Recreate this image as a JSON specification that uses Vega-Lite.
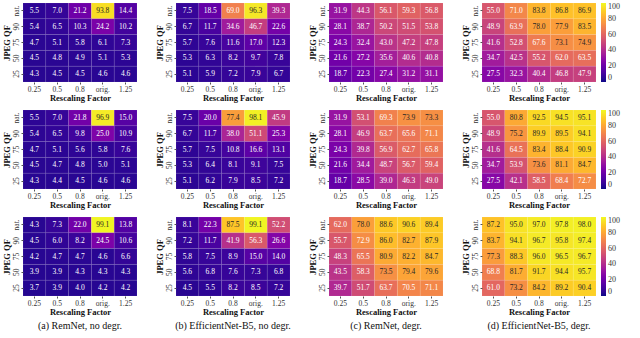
{
"$schema":"https://vega.github.io/schema/vega-lite/v6.json",
"padding":{"left":2,"top":2,"right":0,"bottom":0},
"background":"white",
"datasets":{"d":[
{"p":"a1","x":"0.25","q":"nat.","v":5.5},{"p":"a1","x":"0.5","q":"nat.","v":7.0},{"p":"a1","x":"0.8","q":"nat.","v":21.2},{"p":"a1","x":"orig.","q":"nat.","v":93.8},{"p":"a1","x":"1.25","q":"nat.","v":14.4},
{"p":"a1","x":"0.25","q":"90","v":5.4},{"p":"a1","x":"0.5","q":"90","v":6.5},{"p":"a1","x":"0.8","q":"90","v":10.3},{"p":"a1","x":"orig.","q":"90","v":24.2},{"p":"a1","x":"1.25","q":"90","v":10.2},
{"p":"a1","x":"0.25","q":"75","v":4.7},{"p":"a1","x":"0.5","q":"75","v":5.1},{"p":"a1","x":"0.8","q":"75","v":5.8},{"p":"a1","x":"orig.","q":"75","v":6.1},{"p":"a1","x":"1.25","q":"75","v":7.3},
{"p":"a1","x":"0.25","q":"50","v":4.5},{"p":"a1","x":"0.5","q":"50","v":4.8},{"p":"a1","x":"0.8","q":"50","v":4.9},{"p":"a1","x":"orig.","q":"50","v":5.1},{"p":"a1","x":"1.25","q":"50","v":5.3},
{"p":"a1","x":"0.25","q":"25","v":4.3},{"p":"a1","x":"0.5","q":"25","v":4.5},{"p":"a1","x":"0.8","q":"25","v":4.5},{"p":"a1","x":"orig.","q":"25","v":4.6},{"p":"a1","x":"1.25","q":"25","v":4.6},

{"p":"a2","x":"0.25","q":"nat.","v":5.5},{"p":"a2","x":"0.5","q":"nat.","v":7.0},{"p":"a2","x":"0.8","q":"nat.","v":21.8},{"p":"a2","x":"orig.","q":"nat.","v":96.9},{"p":"a2","x":"1.25","q":"nat.","v":15.0},
{"p":"a2","x":"0.25","q":"90","v":5.4},{"p":"a2","x":"0.5","q":"90","v":6.5},{"p":"a2","x":"0.8","q":"90","v":9.8},{"p":"a2","x":"orig.","q":"90","v":25.0},{"p":"a2","x":"1.25","q":"90","v":10.9},
{"p":"a2","x":"0.25","q":"75","v":4.7},{"p":"a2","x":"0.5","q":"75","v":5.1},{"p":"a2","x":"0.8","q":"75","v":5.6},{"p":"a2","x":"orig.","q":"75","v":5.8},{"p":"a2","x":"1.25","q":"75","v":7.6},
{"p":"a2","x":"0.25","q":"50","v":4.5},{"p":"a2","x":"0.5","q":"50","v":4.7},{"p":"a2","x":"0.8","q":"50","v":4.8},{"p":"a2","x":"orig.","q":"50","v":5.0},{"p":"a2","x":"1.25","q":"50","v":5.1},
{"p":"a2","x":"0.25","q":"25","v":4.3},{"p":"a2","x":"0.5","q":"25","v":4.4},{"p":"a2","x":"0.8","q":"25","v":4.5},{"p":"a2","x":"orig.","q":"25","v":4.6},{"p":"a2","x":"1.25","q":"25","v":4.6},

{"p":"a3","x":"0.25","q":"nat.","v":4.3},{"p":"a3","x":"0.5","q":"nat.","v":7.3},{"p":"a3","x":"0.8","q":"nat.","v":22.0},{"p":"a3","x":"orig.","q":"nat.","v":99.1},{"p":"a3","x":"1.25","q":"nat.","v":13.8},
{"p":"a3","x":"0.25","q":"90","v":4.5},{"p":"a3","x":"0.5","q":"90","v":6.0},{"p":"a3","x":"0.8","q":"90","v":8.2},{"p":"a3","x":"orig.","q":"90","v":24.5},{"p":"a3","x":"1.25","q":"90","v":10.6},
{"p":"a3","x":"0.25","q":"75","v":4.2},{"p":"a3","x":"0.5","q":"75","v":4.7},{"p":"a3","x":"0.8","q":"75","v":4.7},{"p":"a3","x":"orig.","q":"75","v":4.6},{"p":"a3","x":"1.25","q":"75","v":6.6},
{"p":"a3","x":"0.25","q":"50","v":3.9},{"p":"a3","x":"0.5","q":"50","v":3.9},{"p":"a3","x":"0.8","q":"50","v":4.3},{"p":"a3","x":"orig.","q":"50","v":4.3},{"p":"a3","x":"1.25","q":"50","v":4.3},
{"p":"a3","x":"0.25","q":"25","v":3.7},{"p":"a3","x":"0.5","q":"25","v":3.9},{"p":"a3","x":"0.8","q":"25","v":4.0},{"p":"a3","x":"orig.","q":"25","v":4.2},{"p":"a3","x":"1.25","q":"25","v":4.2},

{"p":"b1","x":"0.25","q":"nat.","v":7.5},{"p":"b1","x":"0.5","q":"nat.","v":18.5},{"p":"b1","x":"0.8","q":"nat.","v":69.0},{"p":"b1","x":"orig.","q":"nat.","v":96.3},{"p":"b1","x":"1.25","q":"nat.","v":39.3},
{"p":"b1","x":"0.25","q":"90","v":6.7},{"p":"b1","x":"0.5","q":"90","v":11.7},{"p":"b1","x":"0.8","q":"90","v":34.6},{"p":"b1","x":"orig.","q":"90","v":46.7},{"p":"b1","x":"1.25","q":"90","v":22.6},
{"p":"b1","x":"0.25","q":"75","v":5.7},{"p":"b1","x":"0.5","q":"75","v":7.6},{"p":"b1","x":"0.8","q":"75","v":11.6},{"p":"b1","x":"orig.","q":"75","v":17.0},{"p":"b1","x":"1.25","q":"75","v":12.3},
{"p":"b1","x":"0.25","q":"50","v":5.3},{"p":"b1","x":"0.5","q":"50","v":6.3},{"p":"b1","x":"0.8","q":"50","v":8.2},{"p":"b1","x":"orig.","q":"50","v":9.7},{"p":"b1","x":"1.25","q":"50","v":7.8},
{"p":"b1","x":"0.25","q":"25","v":5.1},{"p":"b1","x":"0.5","q":"25","v":5.9},{"p":"b1","x":"0.8","q":"25","v":7.2},{"p":"b1","x":"orig.","q":"25","v":7.9},{"p":"b1","x":"1.25","q":"25","v":6.7},

{"p":"b2","x":"0.25","q":"nat.","v":7.5},{"p":"b2","x":"0.5","q":"nat.","v":20.0},{"p":"b2","x":"0.8","q":"nat.","v":77.4},{"p":"b2","x":"orig.","q":"nat.","v":98.1},{"p":"b2","x":"1.25","q":"nat.","v":45.9},
{"p":"b2","x":"0.25","q":"90","v":6.7},{"p":"b2","x":"0.5","q":"90","v":11.7},{"p":"b2","x":"0.8","q":"90","v":38.0},{"p":"b2","x":"orig.","q":"90","v":51.1},{"p":"b2","x":"1.25","q":"90","v":25.3},
{"p":"b2","x":"0.25","q":"75","v":5.7},{"p":"b2","x":"0.5","q":"75","v":7.5},{"p":"b2","x":"0.8","q":"75","v":10.8},{"p":"b2","x":"orig.","q":"75","v":16.6},{"p":"b2","x":"1.25","q":"75","v":13.1},
{"p":"b2","x":"0.25","q":"50","v":5.3},{"p":"b2","x":"0.5","q":"50","v":6.4},{"p":"b2","x":"0.8","q":"50","v":8.1},{"p":"b2","x":"orig.","q":"50","v":9.1},{"p":"b2","x":"1.25","q":"50","v":7.5},
{"p":"b2","x":"0.25","q":"25","v":5.1},{"p":"b2","x":"0.5","q":"25","v":6.2},{"p":"b2","x":"0.8","q":"25","v":7.9},{"p":"b2","x":"orig.","q":"25","v":8.5},{"p":"b2","x":"1.25","q":"25","v":7.2},

{"p":"b3","x":"0.25","q":"nat.","v":8.1},{"p":"b3","x":"0.5","q":"nat.","v":22.3},{"p":"b3","x":"0.8","q":"nat.","v":87.5},{"p":"b3","x":"orig.","q":"nat.","v":99.1},{"p":"b3","x":"1.25","q":"nat.","v":52.2},
{"p":"b3","x":"0.25","q":"90","v":7.2},{"p":"b3","x":"0.5","q":"90","v":11.7},{"p":"b3","x":"0.8","q":"90","v":41.9},{"p":"b3","x":"orig.","q":"90","v":56.3},{"p":"b3","x":"1.25","q":"90","v":26.6},
{"p":"b3","x":"0.25","q":"75","v":5.8},{"p":"b3","x":"0.5","q":"75","v":7.5},{"p":"b3","x":"0.8","q":"75","v":8.9},{"p":"b3","x":"orig.","q":"75","v":15.0},{"p":"b3","x":"1.25","q":"75","v":14.0},
{"p":"b3","x":"0.25","q":"50","v":5.6},{"p":"b3","x":"0.5","q":"50","v":6.8},{"p":"b3","x":"0.8","q":"50","v":7.6},{"p":"b3","x":"orig.","q":"50","v":7.3},{"p":"b3","x":"1.25","q":"50","v":6.8},
{"p":"b3","x":"0.25","q":"25","v":4.5},{"p":"b3","x":"0.5","q":"25","v":5.5},{"p":"b3","x":"0.8","q":"25","v":8.2},{"p":"b3","x":"orig.","q":"25","v":8.5},{"p":"b3","x":"1.25","q":"25","v":7.2},

{"p":"c1","x":"0.25","q":"nat.","v":31.9},{"p":"c1","x":"0.5","q":"nat.","v":44.3},{"p":"c1","x":"0.8","q":"nat.","v":56.1},{"p":"c1","x":"orig.","q":"nat.","v":59.3},{"p":"c1","x":"1.25","q":"nat.","v":56.8},
{"p":"c1","x":"0.25","q":"90","v":28.1},{"p":"c1","x":"0.5","q":"90","v":38.7},{"p":"c1","x":"0.8","q":"90","v":50.2},{"p":"c1","x":"orig.","q":"90","v":51.5},{"p":"c1","x":"1.25","q":"90","v":53.8},
{"p":"c1","x":"0.25","q":"75","v":24.3},{"p":"c1","x":"0.5","q":"75","v":32.4},{"p":"c1","x":"0.8","q":"75","v":43.0},{"p":"c1","x":"orig.","q":"75","v":47.2},{"p":"c1","x":"1.25","q":"75","v":47.8},
{"p":"c1","x":"0.25","q":"50","v":21.6},{"p":"c1","x":"0.5","q":"50","v":27.2},{"p":"c1","x":"0.8","q":"50","v":35.6},{"p":"c1","x":"orig.","q":"50","v":40.6},{"p":"c1","x":"1.25","q":"50","v":40.8},
{"p":"c1","x":"0.25","q":"25","v":18.7},{"p":"c1","x":"0.5","q":"25","v":22.3},{"p":"c1","x":"0.8","q":"25","v":27.4},{"p":"c1","x":"orig.","q":"25","v":31.2},{"p":"c1","x":"1.25","q":"25","v":31.1},

{"p":"c2","x":"0.25","q":"nat.","v":31.9},{"p":"c2","x":"0.5","q":"nat.","v":53.1},{"p":"c2","x":"0.8","q":"nat.","v":69.3},{"p":"c2","x":"orig.","q":"nat.","v":73.9},{"p":"c2","x":"1.25","q":"nat.","v":73.3},
{"p":"c2","x":"0.25","q":"90","v":28.1},{"p":"c2","x":"0.5","q":"90","v":46.9},{"p":"c2","x":"0.8","q":"90","v":63.7},{"p":"c2","x":"orig.","q":"90","v":65.6},{"p":"c2","x":"1.25","q":"90","v":71.1},
{"p":"c2","x":"0.25","q":"75","v":24.3},{"p":"c2","x":"0.5","q":"75","v":39.8},{"p":"c2","x":"0.8","q":"75","v":56.9},{"p":"c2","x":"orig.","q":"75","v":62.7},{"p":"c2","x":"1.25","q":"75","v":65.8},
{"p":"c2","x":"0.25","q":"50","v":21.6},{"p":"c2","x":"0.5","q":"50","v":34.4},{"p":"c2","x":"0.8","q":"50","v":48.7},{"p":"c2","x":"orig.","q":"50","v":56.7},{"p":"c2","x":"1.25","q":"50","v":59.4},
{"p":"c2","x":"0.25","q":"25","v":18.7},{"p":"c2","x":"0.5","q":"25","v":28.5},{"p":"c2","x":"0.8","q":"25","v":39.0},{"p":"c2","x":"orig.","q":"25","v":46.3},{"p":"c2","x":"1.25","q":"25","v":49.0},

{"p":"c3","x":"0.25","q":"nat.","v":62.0},{"p":"c3","x":"0.5","q":"nat.","v":78.0},{"p":"c3","x":"0.8","q":"nat.","v":88.6},{"p":"c3","x":"orig.","q":"nat.","v":90.6},{"p":"c3","x":"1.25","q":"nat.","v":89.4},
{"p":"c3","x":"0.25","q":"90","v":55.7},{"p":"c3","x":"0.5","q":"90","v":72.9},{"p":"c3","x":"0.8","q":"90","v":86.0},{"p":"c3","x":"orig.","q":"90","v":82.7},{"p":"c3","x":"1.25","q":"90","v":87.9},
{"p":"c3","x":"0.25","q":"75","v":48.3},{"p":"c3","x":"0.5","q":"75","v":65.5},{"p":"c3","x":"0.8","q":"75","v":80.9},{"p":"c3","x":"orig.","q":"75","v":82.2},{"p":"c3","x":"1.25","q":"75","v":84.7},
{"p":"c3","x":"0.25","q":"50","v":43.5},{"p":"c3","x":"0.5","q":"50","v":58.3},{"p":"c3","x":"0.8","q":"50","v":73.5},{"p":"c3","x":"orig.","q":"50","v":79.4},{"p":"c3","x":"1.25","q":"50","v":79.6},
{"p":"c3","x":"0.25","q":"25","v":39.7},{"p":"c3","x":"0.5","q":"25","v":51.7},{"p":"c3","x":"0.8","q":"25","v":63.7},{"p":"c3","x":"orig.","q":"25","v":70.5},{"p":"c3","x":"1.25","q":"25","v":71.1},

{"p":"d1","x":"0.25","q":"nat.","v":55.0},{"p":"d1","x":"0.5","q":"nat.","v":71.0},{"p":"d1","x":"0.8","q":"nat.","v":83.8},{"p":"d1","x":"orig.","q":"nat.","v":86.8},{"p":"d1","x":"1.25","q":"nat.","v":86.9},
{"p":"d1","x":"0.25","q":"90","v":48.9},{"p":"d1","x":"0.5","q":"90","v":63.9},{"p":"d1","x":"0.8","q":"90","v":78.0},{"p":"d1","x":"orig.","q":"90","v":77.9},{"p":"d1","x":"1.25","q":"90","v":83.5},
{"p":"d1","x":"0.25","q":"75","v":41.6},{"p":"d1","x":"0.5","q":"75","v":52.8},{"p":"d1","x":"0.8","q":"75","v":67.6},{"p":"d1","x":"orig.","q":"75","v":73.1},{"p":"d1","x":"1.25","q":"75","v":74.9},
{"p":"d1","x":"0.25","q":"50","v":34.7},{"p":"d1","x":"0.5","q":"50","v":42.5},{"p":"d1","x":"0.8","q":"50","v":55.2},{"p":"d1","x":"orig.","q":"50","v":62.0},{"p":"d1","x":"1.25","q":"50","v":63.5},
{"p":"d1","x":"0.25","q":"25","v":27.5},{"p":"d1","x":"0.5","q":"25","v":32.3},{"p":"d1","x":"0.8","q":"25","v":40.4},{"p":"d1","x":"orig.","q":"25","v":46.8},{"p":"d1","x":"1.25","q":"25","v":47.9},

{"p":"d2","x":"0.25","q":"nat.","v":55.0},{"p":"d2","x":"0.5","q":"nat.","v":80.8},{"p":"d2","x":"0.8","q":"nat.","v":92.5},{"p":"d2","x":"orig.","q":"nat.","v":94.5},{"p":"d2","x":"1.25","q":"nat.","v":95.1},
{"p":"d2","x":"0.25","q":"90","v":48.9},{"p":"d2","x":"0.5","q":"90","v":75.2},{"p":"d2","x":"0.8","q":"90","v":89.9},{"p":"d2","x":"orig.","q":"90","v":89.5},{"p":"d2","x":"1.25","q":"90","v":94.1},
{"p":"d2","x":"0.25","q":"75","v":41.6},{"p":"d2","x":"0.5","q":"75","v":64.5},{"p":"d2","x":"0.8","q":"75","v":83.4},{"p":"d2","x":"orig.","q":"75","v":88.4},{"p":"d2","x":"1.25","q":"75","v":90.9},
{"p":"d2","x":"0.25","q":"50","v":34.7},{"p":"d2","x":"0.5","q":"50","v":53.9},{"p":"d2","x":"0.8","q":"50","v":73.6},{"p":"d2","x":"orig.","q":"50","v":81.1},{"p":"d2","x":"1.25","q":"50","v":84.7},
{"p":"d2","x":"0.25","q":"25","v":27.5},{"p":"d2","x":"0.5","q":"25","v":42.1},{"p":"d2","x":"0.8","q":"25","v":58.5},{"p":"d2","x":"orig.","q":"25","v":68.4},{"p":"d2","x":"1.25","q":"25","v":72.7},

{"p":"d3","x":"0.25","q":"nat.","v":87.2},{"p":"d3","x":"0.5","q":"nat.","v":95.0},{"p":"d3","x":"0.8","q":"nat.","v":97.0},{"p":"d3","x":"orig.","q":"nat.","v":97.8},{"p":"d3","x":"1.25","q":"nat.","v":98.0},
{"p":"d3","x":"0.25","q":"90","v":83.7},{"p":"d3","x":"0.5","q":"90","v":94.1},{"p":"d3","x":"0.8","q":"90","v":96.7},{"p":"d3","x":"orig.","q":"90","v":95.8},{"p":"d3","x":"1.25","q":"90","v":97.4},
{"p":"d3","x":"0.25","q":"75","v":77.3},{"p":"d3","x":"0.5","q":"75","v":88.3},{"p":"d3","x":"0.8","q":"75","v":96.0},{"p":"d3","x":"orig.","q":"75","v":96.5},{"p":"d3","x":"1.25","q":"75","v":96.7},
{"p":"d3","x":"0.25","q":"50","v":68.8},{"p":"d3","x":"0.5","q":"50","v":81.7},{"p":"d3","x":"0.8","q":"50","v":91.7},{"p":"d3","x":"orig.","q":"50","v":94.4},{"p":"d3","x":"1.25","q":"50","v":95.7},
{"p":"d3","x":"0.25","q":"25","v":61.0},{"p":"d3","x":"0.5","q":"25","v":73.2},{"p":"d3","x":"0.8","q":"25","v":84.2},{"p":"d3","x":"orig.","q":"25","v":89.2},{"p":"d3","x":"1.25","q":"25","v":90.4}
]},
"data":{"name":"d"},
"title":{"text":"Fig. 2.   Robustness against rescaling and JPEG recompression for predictions per patch (first row), clusters (second row) and images (third row). Columns","orient":"bottom","anchor":"start","fontSize":10,"fontWeight":"normal","font":"Liberation Serif","offset":7,"color":"#111"},
"resolve":{"scale":{"color":"independent"}},
"spacing":7,
"vconcat":[
{"spacing":17,"hconcat":[
 {"width":114,"height":79,"transform":[{"filter":"datum.p=='a1'"}],"encoding":{"x":{"field":"x","type":"ordinal","sort":["0.25","0.5","0.8","orig.","1.25"],"title":"Rescaling Factor"},"y":{"field":"q","type":"ordinal","sort":["nat.","90","75","50","25"],"title":"JPEG QF"}},"layer":[{"mark":{"type":"rect","stroke":"white","strokeWidth":0.3,"strokeOpacity":0.25},"encoding":{"color":{"field":"v","type":"quantitative","scale":{"scheme":"plasma","domain":[0,100]},"legend":{"title":null,"values":[0,20,40,60,80,100]}}}},{"mark":{"type":"text","fontSize":7.5},"encoding":{"text":{"field":"v","type":"quantitative","format":".1f"},"color":{"condition":{"test":"datum.v>=73","value":"#262626"},"value":"white"}}}]},
 {"width":114,"height":79,"transform":[{"filter":"datum.p=='b1'"}],"encoding":{"x":{"field":"x","type":"ordinal","sort":["0.25","0.5","0.8","orig.","1.25"],"title":"Rescaling Factor"},"y":{"field":"q","type":"ordinal","sort":["nat.","90","75","50","25"],"title":"JPEG QF"}},"layer":[{"mark":{"type":"rect","stroke":"white","strokeWidth":0.3,"strokeOpacity":0.25},"encoding":{"color":{"field":"v","type":"quantitative","scale":{"scheme":"plasma","domain":[0,100]},"legend":{"title":null,"values":[0,20,40,60,80,100]}}}},{"mark":{"type":"text","fontSize":7.5},"encoding":{"text":{"field":"v","type":"quantitative","format":".1f"},"color":{"condition":{"test":"datum.v>=73","value":"#262626"},"value":"white"}}}]},
 {"width":114,"height":79,"transform":[{"filter":"datum.p=='c1'"}],"encoding":{"x":{"field":"x","type":"ordinal","sort":["0.25","0.5","0.8","orig.","1.25"],"title":"Rescaling Factor"},"y":{"field":"q","type":"ordinal","sort":["nat.","90","75","50","25"],"title":"JPEG QF"}},"layer":[{"mark":{"type":"rect","stroke":"white","strokeWidth":0.3,"strokeOpacity":0.25},"encoding":{"color":{"field":"v","type":"quantitative","scale":{"scheme":"plasma","domain":[0,100]},"legend":{"title":null,"values":[0,20,40,60,80,100]}}}},{"mark":{"type":"text","fontSize":7.5},"encoding":{"text":{"field":"v","type":"quantitative","format":".1f"},"color":{"condition":{"test":"datum.v>=73","value":"#262626"},"value":"white"}}}]},
 {"width":114,"height":79,"transform":[{"filter":"datum.p=='d1'"}],"encoding":{"x":{"field":"x","type":"ordinal","sort":["0.25","0.5","0.8","orig.","1.25"],"title":"Rescaling Factor"},"y":{"field":"q","type":"ordinal","sort":["nat.","90","75","50","25"],"title":"JPEG QF"}},"layer":[{"mark":{"type":"rect","stroke":"white","strokeWidth":0.3,"strokeOpacity":0.25},"encoding":{"color":{"field":"v","type":"quantitative","scale":{"scheme":"plasma","domain":[0,100]},"legend":{"title":null,"values":[0,20,40,60,80,100]}}}},{"mark":{"type":"text","fontSize":7.5},"encoding":{"text":{"field":"v","type":"quantitative","format":".1f"},"color":{"condition":{"test":"datum.v>=73","value":"#262626"},"value":"white"}}}]}
]},
{"spacing":17,"hconcat":[
 {"width":114,"height":79,"transform":[{"filter":"datum.p=='a2'"}],"encoding":{"x":{"field":"x","type":"ordinal","sort":["0.25","0.5","0.8","orig.","1.25"],"title":"Rescaling Factor"},"y":{"field":"q","type":"ordinal","sort":["nat.","90","75","50","25"],"title":"JPEG QF"}},"layer":[{"mark":{"type":"rect","stroke":"white","strokeWidth":0.3,"strokeOpacity":0.25},"encoding":{"color":{"field":"v","type":"quantitative","scale":{"scheme":"plasma","domain":[0,100]},"legend":{"title":null,"values":[0,20,40,60,80,100]}}}},{"mark":{"type":"text","fontSize":7.5},"encoding":{"text":{"field":"v","type":"quantitative","format":".1f"},"color":{"condition":{"test":"datum.v>=73","value":"#262626"},"value":"white"}}}]},
 {"width":114,"height":79,"transform":[{"filter":"datum.p=='b2'"}],"encoding":{"x":{"field":"x","type":"ordinal","sort":["0.25","0.5","0.8","orig.","1.25"],"title":"Rescaling Factor"},"y":{"field":"q","type":"ordinal","sort":["nat.","90","75","50","25"],"title":"JPEG QF"}},"layer":[{"mark":{"type":"rect","stroke":"white","strokeWidth":0.3,"strokeOpacity":0.25},"encoding":{"color":{"field":"v","type":"quantitative","scale":{"scheme":"plasma","domain":[0,100]},"legend":{"title":null,"values":[0,20,40,60,80,100]}}}},{"mark":{"type":"text","fontSize":7.5},"encoding":{"text":{"field":"v","type":"quantitative","format":".1f"},"color":{"condition":{"test":"datum.v>=73","value":"#262626"},"value":"white"}}}]},
 {"width":114,"height":79,"transform":[{"filter":"datum.p=='c2'"}],"encoding":{"x":{"field":"x","type":"ordinal","sort":["0.25","0.5","0.8","orig.","1.25"],"title":"Rescaling Factor"},"y":{"field":"q","type":"ordinal","sort":["nat.","90","75","50","25"],"title":"JPEG QF"}},"layer":[{"mark":{"type":"rect","stroke":"white","strokeWidth":0.3,"strokeOpacity":0.25},"encoding":{"color":{"field":"v","type":"quantitative","scale":{"scheme":"plasma","domain":[0,100]},"legend":{"title":null,"values":[0,20,40,60,80,100]}}}},{"mark":{"type":"text","fontSize":7.5},"encoding":{"text":{"field":"v","type":"quantitative","format":".1f"},"color":{"condition":{"test":"datum.v>=73","value":"#262626"},"value":"white"}}}]},
 {"width":114,"height":79,"transform":[{"filter":"datum.p=='d2'"}],"encoding":{"x":{"field":"x","type":"ordinal","sort":["0.25","0.5","0.8","orig.","1.25"],"title":"Rescaling Factor"},"y":{"field":"q","type":"ordinal","sort":["nat.","90","75","50","25"],"title":"JPEG QF"}},"layer":[{"mark":{"type":"rect","stroke":"white","strokeWidth":0.3,"strokeOpacity":0.25},"encoding":{"color":{"field":"v","type":"quantitative","scale":{"scheme":"plasma","domain":[0,100]},"legend":{"title":null,"values":[0,20,40,60,80,100]}}}},{"mark":{"type":"text","fontSize":7.5},"encoding":{"text":{"field":"v","type":"quantitative","format":".1f"},"color":{"condition":{"test":"datum.v>=73","value":"#262626"},"value":"white"}}}]}
]},
{"spacing":17,"hconcat":[
 {"width":114,"height":79,"title":"(a) RemNet, no degr.","transform":[{"filter":"datum.p=='a3'"}],"encoding":{"x":{"field":"x","type":"ordinal","sort":["0.25","0.5","0.8","orig.","1.25"],"title":"Rescaling Factor"},"y":{"field":"q","type":"ordinal","sort":["nat.","90","75","50","25"],"title":"JPEG QF"}},"layer":[{"mark":{"type":"rect","stroke":"white","strokeWidth":0.3,"strokeOpacity":0.25},"encoding":{"color":{"field":"v","type":"quantitative","scale":{"scheme":"plasma","domain":[0,100]},"legend":{"title":null,"values":[0,20,40,60,80,100]}}}},{"mark":{"type":"text","fontSize":7.5},"encoding":{"text":{"field":"v","type":"quantitative","format":".1f"},"color":{"condition":{"test":"datum.v>=73","value":"#262626"},"value":"white"}}}]},
 {"width":114,"height":79,"title":"(b) EfficientNet-B5, no degr.","transform":[{"filter":"datum.p=='b3'"}],"encoding":{"x":{"field":"x","type":"ordinal","sort":["0.25","0.5","0.8","orig.","1.25"],"title":"Rescaling Factor"},"y":{"field":"q","type":"ordinal","sort":["nat.","90","75","50","25"],"title":"JPEG QF"}},"layer":[{"mark":{"type":"rect","stroke":"white","strokeWidth":0.3,"strokeOpacity":0.25},"encoding":{"color":{"field":"v","type":"quantitative","scale":{"scheme":"plasma","domain":[0,100]},"legend":{"title":null,"values":[0,20,40,60,80,100]}}}},{"mark":{"type":"text","fontSize":7.5},"encoding":{"text":{"field":"v","type":"quantitative","format":".1f"},"color":{"condition":{"test":"datum.v>=73","value":"#262626"},"value":"white"}}}]},
 {"width":114,"height":79,"title":"(c) RemNet, degr.","transform":[{"filter":"datum.p=='c3'"}],"encoding":{"x":{"field":"x","type":"ordinal","sort":["0.25","0.5","0.8","orig.","1.25"],"title":"Rescaling Factor"},"y":{"field":"q","type":"ordinal","sort":["nat.","90","75","50","25"],"title":"JPEG QF"}},"layer":[{"mark":{"type":"rect","stroke":"white","strokeWidth":0.3,"strokeOpacity":0.25},"encoding":{"color":{"field":"v","type":"quantitative","scale":{"scheme":"plasma","domain":[0,100]},"legend":{"title":null,"values":[0,20,40,60,80,100]}}}},{"mark":{"type":"text","fontSize":7.5},"encoding":{"text":{"field":"v","type":"quantitative","format":".1f"},"color":{"condition":{"test":"datum.v>=73","value":"#262626"},"value":"white"}}}]},
 {"width":114,"height":79,"title":"(d) EfficientNet-B5, degr.","transform":[{"filter":"datum.p=='d3'"}],"encoding":{"x":{"field":"x","type":"ordinal","sort":["0.25","0.5","0.8","orig.","1.25"],"title":"Rescaling Factor"},"y":{"field":"q","type":"ordinal","sort":["nat.","90","75","50","25"],"title":"JPEG QF"}},"layer":[{"mark":{"type":"rect","stroke":"white","strokeWidth":0.3,"strokeOpacity":0.25},"encoding":{"color":{"field":"v","type":"quantitative","scale":{"scheme":"plasma","domain":[0,100]},"legend":{"title":null,"values":[0,20,40,60,80,100]}}}},{"mark":{"type":"text","fontSize":7.5},"encoding":{"text":{"field":"v","type":"quantitative","format":".1f"},"color":{"condition":{"test":"datum.v>=73","value":"#262626"},"value":"white"}}}]}
]}
],
"config":{
 "font":"Liberation Serif",
 "view":{"stroke":null},
 "title":{"orient":"bottom","anchor":"middle","fontSize":10,"fontWeight":"normal","font":"Liberation Serif","offset":5,"color":"#111"},
 "axis":{"labelFontSize":7.5,"titleFontSize":8.5,"titleFontWeight":"bold","labelColor":"#333","titleColor":"#111","domain":false,"tickSize":2,"tickColor":"#555","labelPadding":1,"titlePadding":1,"labelFont":"Liberation Serif","titleFont":"Liberation Serif"},
 "axisY":{"labelAngle":-90},
 "axisX":{"labelAngle":0},
 "legend":{"gradientLength":79,"gradientThickness":5,"labelFontSize":8,"labelFont":"Liberation Serif","labelColor":"#333","offset":4,"padding":0,"gradientStrokeWidth":0,"labelOffset":2},
 "text":{"font":"Liberation Serif"}
}
}
